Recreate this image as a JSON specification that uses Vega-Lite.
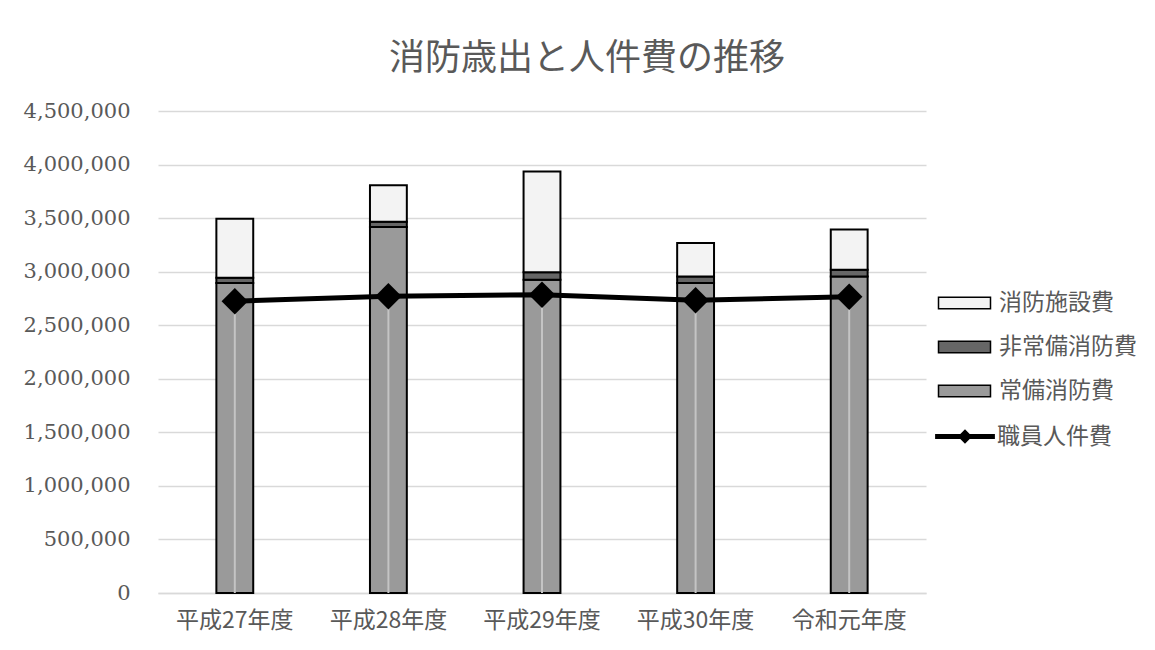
{
  "$schema": "https://vega.github.io/schema/vega-lite/v6.json",
  "width": 768,
  "height": 482,
  "autosize": {"type": "none"},
  "padding": {"left": 158, "top": 111, "right": 229, "bottom": 57},
  "background": "white",
  "title": {
    "text": "消防歳出と人件費の推移",
    "font": "Noto Sans CJK JP",
    "fontSize": 36,
    "fontWeight": "normal",
    "color": "#595959",
    "anchor": "middle",
    "dx": 45,
    "offset": 22
  },
  "config": {
    "view": {"stroke": null},
    "axisX": {
      "domainColor": "#d9d9d9",
      "domainWidth": 1.5,
      "ticks": false,
      "labelFont": "Noto Sans CJK JP",
      "labelFontSize": 23,
      "labelColor": "#595959",
      "labelPadding": 16,
      "labelAngle": 0,
      "title": null,
      "grid": false
    },
    "axisY": {
      "domain": false,
      "ticks": false,
      "gridColor": "#d9d9d9",
      "gridWidth": 1.5,
      "labelFont": "DejaVu Serif",
      "labelFontSize": 21,
      "labelColor": "#595959",
      "labelPadding": 28,
      "title": null
    }
  },
  "datasets": {
    "bars": [
      {"year": "平成27年度", "type": "常備消防費", "rank": 1, "value": 2894000},
      {"year": "平成27年度", "type": "非常備消防費", "rank": 2, "value": 50000},
      {"year": "平成27年度", "type": "消防施設費", "rank": 3, "value": 551000},
      {"year": "平成28年度", "type": "常備消防費", "rank": 1, "value": 3418000},
      {"year": "平成28年度", "type": "非常備消防費", "rank": 2, "value": 47000},
      {"year": "平成28年度", "type": "消防施設費", "rank": 3, "value": 342000},
      {"year": "平成29年度", "type": "常備消防費", "rank": 1, "value": 2925000},
      {"year": "平成29年度", "type": "非常備消防費", "rank": 2, "value": 69000},
      {"year": "平成29年度", "type": "消防施設費", "rank": 3, "value": 941000},
      {"year": "平成30年度", "type": "常備消防費", "rank": 1, "value": 2894000},
      {"year": "平成30年度", "type": "非常備消防費", "rank": 2, "value": 62000},
      {"year": "平成30年度", "type": "消防施設費", "rank": 3, "value": 312000},
      {"year": "令和元年度", "type": "常備消防費", "rank": 1, "value": 2956000},
      {"year": "令和元年度", "type": "非常備消防費", "rank": 2, "value": 63000},
      {"year": "令和元年度", "type": "消防施設費", "rank": 3, "value": 374000}
    ],
    "line": [
      {"year": "平成27年度", "series": "職員人件費", "value": 2724000},
      {"year": "平成28年度", "series": "職員人件費", "value": 2771000},
      {"year": "平成29年度", "series": "職員人件費", "value": 2785000},
      {"year": "平成30年度", "series": "職員人件費", "value": 2734000},
      {"year": "令和元年度", "series": "職員人件費", "value": 2766000}
    ]
  },
  "encoding": {
    "x": {
      "field": "year",
      "type": "nominal",
      "sort": ["平成27年度", "平成28年度", "平成29年度", "平成30年度", "令和元年度"],
      "scale": {"paddingInner": 0.76, "paddingOuter": 0.38}
    },
    "y": {
      "field": "value",
      "type": "quantitative",
      "scale": {"domain": [0, 4500000], "nice": false},
      "axis": {
        "values": [0, 500000, 1000000, 1500000, 2000000, 2500000, 3000000, 3500000, 4000000, 4500000],
        "format": ",d"
      }
    }
  },
  "layer": [
    {
      "data": {"name": "bars"},
      "mark": {"type": "bar", "stroke": "black", "strokeWidth": 2},
      "encoding": {
        "y": {"field": "value", "type": "quantitative", "stack": "zero"},
        "fill": {
          "field": "type",
          "type": "nominal",
          "scale": {
            "domain": ["消防施設費", "非常備消防費", "常備消防費"],
            "range": ["#f3f3f3", "#666666", "#9a9a9a"]
          },
          "legend": {
            "title": null,
            "orient": "none",
            "legendX": 792.5,
            "legendY": 178,
            "padding": 0,
            "symbolType": "M-2,-0.45L2,-0.45L2,0.45L-2,0.45Z",
            "symbolSize": 676,
            "symbolStrokeColor": "black",
            "symbolStrokeWidth": 1.5,
            "labelFont": "Noto Sans CJK JP",
            "labelFontSize": 23,
            "labelColor": "#595959",
            "labelOffset": 20.5,
            "rowPadding": 18
          }
        },
        "order": {"field": "rank", "type": "quantitative"}
      }
    },
    {
      "data": {"name": "line"},
      "mark": {"type": "rule", "color": "#c4c4c4", "strokeWidth": 2},
      "encoding": {
        "y2": {"datum": 0}
      }
    },
    {
      "data": {"name": "line"},
      "mark": {"type": "line", "strokeWidth": 5},
      "encoding": {
        "stroke": {
          "field": "series",
          "type": "nominal",
          "scale": {"range": ["black"]},
          "legend": {
            "title": null,
            "orient": "none",
            "legendX": 794,
            "legendY": 312.5,
            "padding": 0,
            "symbolType": "M-2.3,-0.19L2.3,-0.19L2.3,0.19L-2.3,0.19Z M0,-0.55L0.55,0L0,0.55L-0.55,0Z",
            "symbolSize": 676,
            "symbolFillColor": "black",
            "symbolStrokeWidth": 0,
            "labelFont": "Noto Sans CJK JP",
            "labelFontSize": 23,
            "labelColor": "#595959",
            "labelOffset": 19,
            "encode": {
              "symbols": {
                "update": {
                  "fill": {"value": "black"},
                  "strokeWidth": {"value": 0}
                }
              }
            }
          }
        }
      }
    },
    {
      "data": {"name": "line"},
      "mark": {"type": "point", "shape": "diamond", "size": 700, "filled": true, "color": "black", "opacity": 1}
    }
  ]
}
